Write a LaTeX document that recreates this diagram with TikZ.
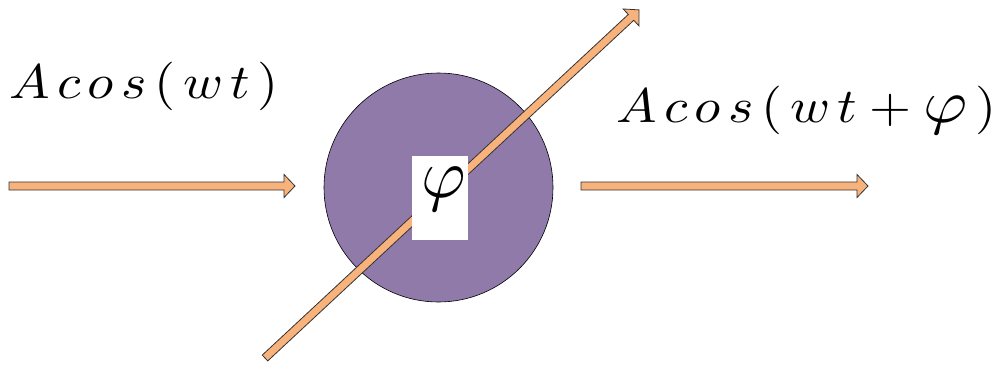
\documentclass[tikz,border=0pt]{standalone}
\definecolor{arrowfill}{RGB}{248,178,124}
\definecolor{discfill}{RGB}{143,122,170}
\tikzset{
  barrow/.style={fill=arrowfill,draw=black!80,line width=0.8pt,line join=miter},
  disc/.style={circle,fill=discfill,draw=black,line width=0.6pt,minimum size=229pt,inner sep=0pt},
  phibox/.style={fill=white,minimum width=56pt,minimum height=84pt,inner sep=0pt},
  bigtext/.style={inner sep=0pt,xscale=5.4,yscale=4.85}
}
\newcommand{\gp}{\kern1.4pt}
\newcommand{\blockarrowshape}[1]{%
  \filldraw[barrow] (0,-4) -- (#1-11,-4) -- (#1-11,-11.5) -- (#1,0) -- (#1-11,11.5) -- (#1-11,4) -- (0,4) -- cycle;}
\begin{document}
\begin{tikzpicture}[x=1pt,y=1pt]
\useasboundingbox (0,0) rectangle (995,365);
% disc
\node[disc] (d) at (438.5,177.5) {};
% diagonal arrow
\coordinate (ds) at (265,7);
\coordinate (de) at (639,355);
\begin{scope}[shift={(ds)},rotate=42.94]
\blockarrowshape{511}
\end{scope}
% phi box
\node[phibox] (pb) at (440,167) {};
\node[inner sep=0pt,xscale=6.8,yscale=7] (phi) at (444,176) {$\varphi$};
% left arrow
\coordinate (ls) at (9,179);
\begin{scope}[shift={(ls)}]
\blockarrowshape{286}
\end{scope}
% right arrow
\coordinate (rs) at (581,179);
\begin{scope}[shift={(rs)}]
\blockarrowshape{287}
\end{scope}
% labels
\node[bigtext,anchor=base west] (l1) at (8,266) {$A\gp c\gp o\gp s\gp(\gp w\gp t\gp)$};
\node[bigtext,anchor=base west] (l2) at (615,242) {$A\gp c\gp o\gp s\gp(\gp w\gp t+{\scalebox{1.25}{$\varphi$}}\gp)$};
\end{tikzpicture}
\end{document}
